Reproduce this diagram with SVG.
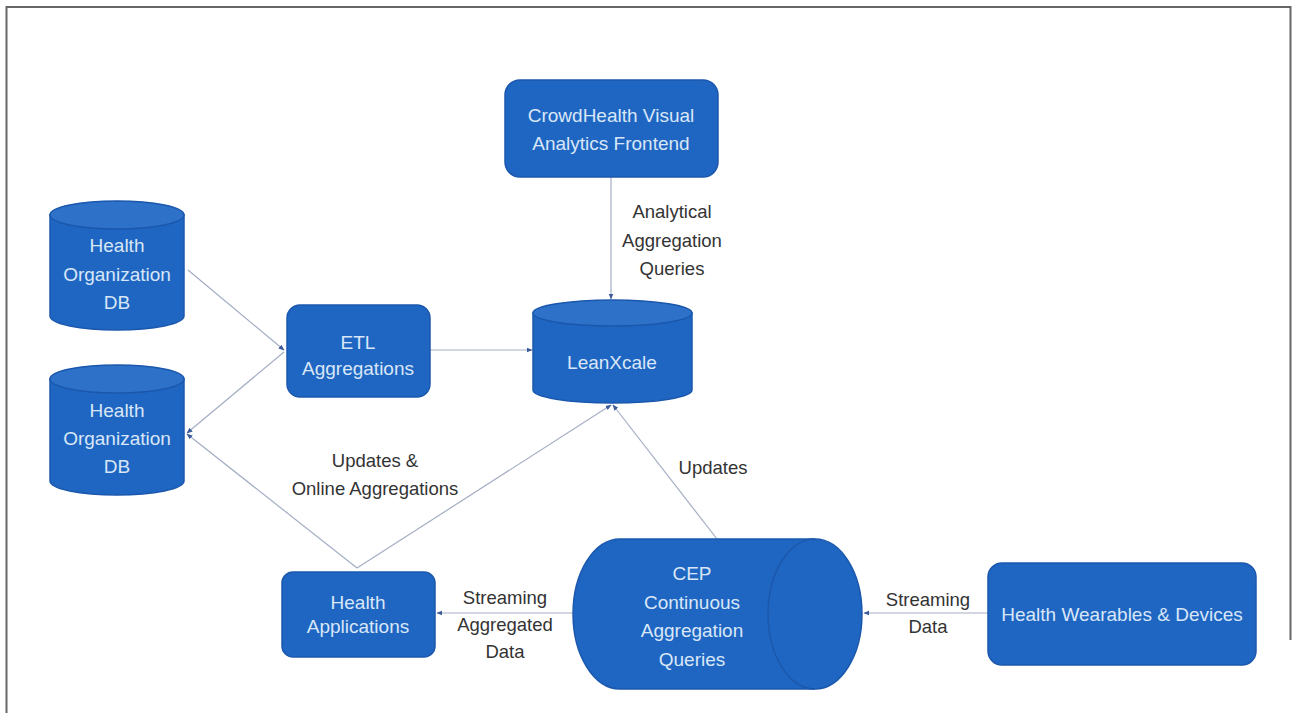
<svg xmlns="http://www.w3.org/2000/svg" width="1292" height="713" viewBox="0 0 1292 713">
<defs>
<style>
.node{fill:#1f66c2;stroke:#1b58ad;stroke-width:1.5}
.top{fill:#2d71c9;stroke:#1b58ad;stroke-width:1.5}
.nt{font-family:"Liberation Sans",Arial,sans-serif;font-size:19px;fill:#d9e6f7;text-anchor:middle;dominant-baseline:central}
.lb{font-family:"Liberation Sans",Arial,sans-serif;font-size:18.5px;fill:#333;text-anchor:middle;dominant-baseline:central}
.con{fill:none;stroke:#a3adc4;stroke-width:1.2}
</style>
<marker id="ah" viewBox="0 0 10 10" refX="9" refY="5" markerWidth="6" markerHeight="6" orient="auto" markerUnits="userSpaceOnUse">
<path d="M0,1 L10,5 L0,9 Z" fill="#3a5a9a"/>
</marker>
</defs>
<rect width="1292" height="713" fill="#fff"/>
<path d="M6.5,713 L6.5,7 L1290.5,7 L1290.5,640" fill="none" stroke="#666" stroke-width="2"/>

<g id="connectors">
<line class="con" x1="188" y1="270" x2="284" y2="350" marker-end="url(#ah)"/>
<line class="con" x1="284" y1="352" x2="187" y2="433" marker-end="url(#ah)"/>
<line class="con" x1="357" y1="568" x2="187" y2="434" marker-end="url(#ah)"/>
<line class="con" x1="357" y1="568" x2="611" y2="405" marker-end="url(#ah)"/>
<line class="con" x1="430" y1="350" x2="532" y2="350" marker-end="url(#ah)"/>
<line class="con" x1="611" y1="177" x2="611" y2="299" marker-end="url(#ah)"/>
<line class="con" x1="717" y1="539" x2="613" y2="405" marker-end="url(#ah)"/>
<line class="con" x1="573" y1="613" x2="437" y2="613" marker-end="url(#ah)"/>
<line class="con" x1="988" y1="613" x2="864" y2="613" marker-end="url(#ah)"/>
</g>

<g id="db1">
<path class="node" d="M50,215 L50,316 A67,14 0 0 0 184,316 L184,215 Z"/>
<ellipse class="top" cx="117" cy="215" rx="67" ry="14"/>
<text class="nt" x="117" y="245">Health</text>
<text class="nt" x="117" y="274">Organization</text>
<text class="nt" x="117" y="302">DB</text>
</g>

<g id="db2">
<path class="node" d="M50,379 L50,481 A67,14 0 0 0 184,481 L184,379 Z"/>
<ellipse class="top" cx="117" cy="379" rx="67" ry="14"/>
<text class="nt" x="117" y="410">Health</text>
<text class="nt" x="117" y="438">Organization</text>
<text class="nt" x="117" y="466">DB</text>
</g>

<g id="etl">
<rect class="node" x="287" y="305" width="143" height="92" rx="13"/>
<text class="nt" x="358" y="342">ETL</text>
<text class="nt" x="358" y="368">Aggregations</text>
</g>

<g id="frontend">
<rect class="node" x="505" y="80" width="213" height="97" rx="15"/>
<text class="nt" x="611" y="115">CrowdHealth Visual</text>
<text class="nt" x="611" y="143">Analytics Frontend</text>
</g>

<g id="leanxcale">
<path class="node" d="M533,313 L533,390 A79.5,13 0 0 0 692,390 L692,313 Z"/>
<ellipse class="top" cx="612.5" cy="313" rx="79.5" ry="13"/>
<text class="nt" x="612" y="362">LeanXcale</text>
</g>

<g id="healthapps">
<rect class="node" x="282" y="572" width="153" height="85" rx="11"/>
<text class="nt" x="358" y="602">Health</text>
<text class="nt" x="358" y="626">Applications</text>
</g>

<g id="cep">
<path class="node" d="M620,539 L815,539 A47,75 0 0 1 815,689 L620,689 A47,75 0 0 1 620,539 Z"/>
<path d="M815,539 A47,75 0 0 0 815,689" fill="none" stroke="#1b58ad" stroke-width="1.5"/>
<text class="nt" x="692" y="573">CEP</text>
<text class="nt" x="692" y="602">Continuous</text>
<text class="nt" x="692" y="630">Aggregation</text>
<text class="nt" x="692" y="659">Queries</text>
</g>

<g id="wearables">
<rect class="node" x="988" y="563" width="268" height="102" rx="14"/>
<text class="nt" x="1122" y="614">Health Wearables &amp; Devices</text>
</g>

<g id="labels">
<text class="lb" x="672" y="211">Analytical</text>
<text class="lb" x="672" y="240">Aggregation</text>
<text class="lb" x="672" y="268">Queries</text>
<text class="lb" x="375" y="460">Updates &amp;</text>
<text class="lb" x="375" y="488">Online Aggregations</text>
<text class="lb" x="713" y="467">Updates</text>
<text class="lb" x="505" y="597">Streaming</text>
<text class="lb" x="505" y="624">Aggregated</text>
<text class="lb" x="505" y="651">Data</text>
<text class="lb" x="928" y="599">Streaming</text>
<text class="lb" x="928" y="626">Data</text>
</g>
</svg>
